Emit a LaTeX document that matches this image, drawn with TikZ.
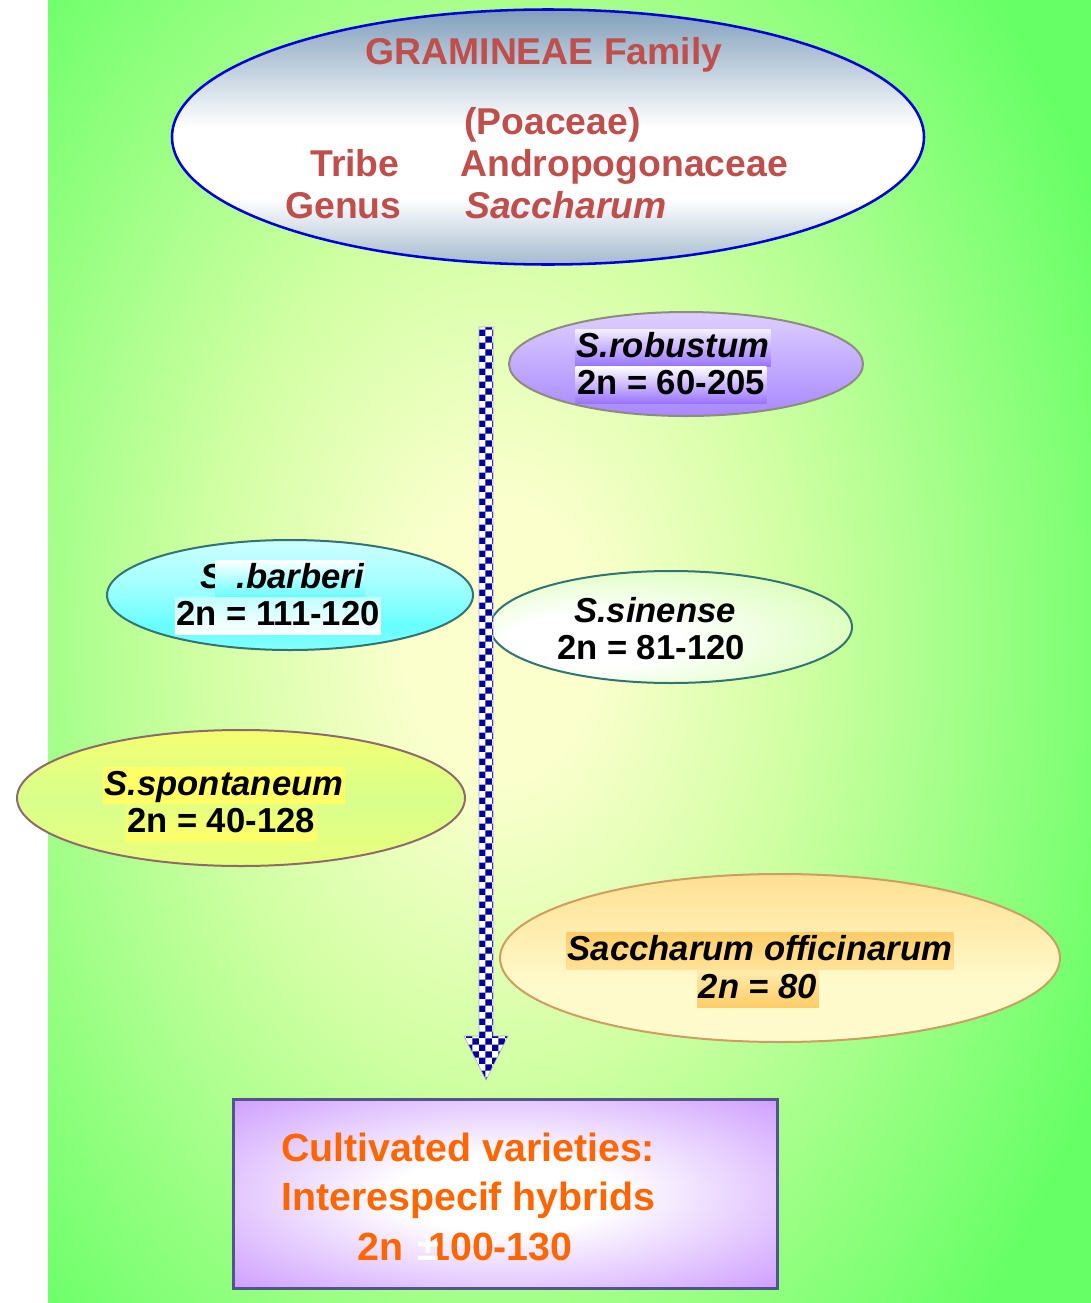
\documentclass[tikz,border=0pt]{standalone}
\usepackage{fontspec}
\setmainfont{Liberation Sans}
\usetikzlibrary{shapes.geometric,patterns,calc}

\definecolor{bggreen}{rgb}{0.40,1,0.40}
\definecolor{bgcream}{rgb}{0.98,1,0.80}
\definecolor{bgmid}{rgb}{0.82,1,0.64}
\definecolor{titlered}{rgb}{0.75,0.31,0.30}
\definecolor{steelc}{rgb}{0.29,0.46,0.62}
\definecolor{ellblue}{rgb}{0,0,0.85}
\definecolor{robpurple}{rgb}{0.60,0.45,1}
\definecolor{robtop}{rgb}{0.97,0.95,1}
\definecolor{robedge}{rgb}{0.55,0.55,0.50}
\definecolor{cyanc}{rgb}{0.40,1,1}
\definecolor{barbot}{rgb}{0.85,1,1}
\definecolor{tealc}{rgb}{0.20,0.45,0.45}
\definecolor{sinlg}{rgb}{0.78,1,0.58}
\definecolor{yelc}{rgb}{1,1,0.40}
\definecolor{yelg}{rgb}{0.85,1,0.55}
\definecolor{mauvec}{rgb}{0.55,0.42,0.42}
\definecolor{orngc}{rgb}{1,0.80,0.40}
\definecolor{creamc}{rgb}{1,0.98,0.80}
\definecolor{tanc}{rgb}{0.80,0.62,0.38}
\definecolor{lavc}{rgb}{0.80,0.60,1}
\definecolor{boxedge}{rgb}{0.33,0.33,0.55}
\definecolor{txtorange}{rgb}{1,0.40,0}
\definecolor{arrblue}{rgb}{0,0,0.60}

\pgfdeclareradialshading{bgshade}{\pgfpoint{0bp}{0bp}}{color(0bp)=(bgcream); color(4bp)=(bgcream); color(12bp)=(bgmid); color(27bp)=(bggreen); color(50bp)=(bggreen)}
\pgfdeclareverticalshading{topell}{100bp}{color(0bp)=(steelc); color(12bp)=(steelc); color(38bp)=(white); color(52bp)=(white); color(85bp)=(steelc); color(100bp)=(steelc)}
\pgfdeclareverticalshading{robsh}{100bp}{color(0bp)=(robpurple); color(10bp)=(robpurple); color(100bp)=(robtop)}
\pgfdeclareverticalshading{barsh}{100bp}{color(0bp)=(barbot); color(35bp)=(cyanc); color(55bp)=(cyanc!60!white); color(100bp)=(white)}
\pgfdeclareradialshading{sinsh}{\pgfpoint{-14bp}{-8bp}}{color(0bp)=(white); color(12bp)=(white); color(28bp)=(sinlg!50!white); color(42bp)=(sinlg); color(50bp)=(sinlg)}
\pgfdeclareverticalshading{sponsh}{100bp}{color(0bp)=(yelc); color(15bp)=(yelc!60!yelg); color(50bp)=(yelg); color(85bp)=(yelc); color(100bp)=(yelc)}
\pgfdeclareverticalshading{offsh}{100bp}{color(0bp)=(orngc!85!creamc); color(25bp)=(creamc); color(42bp)=(creamc); color(100bp)=(orngc)}
\pgfdeclareradialshading{boxsh}{\pgfpoint{0bp}{0bp}}{color(0bp)=(white); color(10bp)=(white); color(37bp)=(lavc); color(50bp)=(lavc)}

\pgfdeclarepatternformonly{bigcheck}{\pgfpointorigin}{\pgfqpoint{10pt}{10pt}}{\pgfqpoint{10pt}{10pt}}{%
  \pgfpathrectangle{\pgfpointorigin}{\pgfqpoint{5pt}{5pt}}%
  \pgfpathrectangle{\pgfqpoint{5pt}{5pt}}{\pgfqpoint{5pt}{5pt}}%
  \pgfusepath{fill}}

\begin{document}
\begin{tikzpicture}[x=0.75pt,y=-0.75pt,
  spell/.style={ellipse, draw, line width=1.5pt, inner sep=0pt},
  sptext/.style={font=\fontsize{26}{28}\selectfont\bfseries, inner xsep=1pt, inner ysep=0pt, text height=21pt, text depth=7pt, anchor=base},
  ttl/.style={font=\fontsize{28}{32}\selectfont\bfseries, text=titlered, inner sep=0pt, anchor=base west},
  cultt/.style={font=\fontsize{29.5}{34}\selectfont\bfseries, text=txtorange, inner sep=0pt, anchor=base west},
  arrowfill/.style={preaction={fill=white}, pattern=bigcheck, pattern color=arrblue, draw=arrblue!35, line width=0.4pt}]
\useasboundingbox (0,0) rectangle (1091,1303);
\fill[white] (0,0) rectangle (1091,1303);
\begin{scope}
  \clip (48,0) rectangle (1091,1303);
  \fill[bggreen] (48,0) rectangle (1091,1303);
  \shade[shading=bgshade] (-120,-260) rectangle (1120,1540);
\end{scope}

% top ellipse
\node[spell, draw=ellblue, line width=1.9pt, shading=topell, minimum width=752*0.75pt, minimum height=255*0.75pt] (fam) at (548,137) {};
\node[ttl, anchor=base] (t1) at (544,64) {GRAMINEAE Family};
\node[ttl] (t2) at (464,134) {(Poaceae)};
\node[ttl] (t3) at (310,176) {Tribe};
\node[ttl] (t4) at (460,176) {Andropogonaceae};
\node[ttl] (t5) at (285,218) {Genus};
\node[ttl] (t6) at (465,218) {\itshape Saccharum};

% S. robustum
\node[spell, draw=robedge, shading=robsh, minimum width=354*0.75pt, minimum height=104*0.75pt] (rob) at (686,364) {};
\node[sptext, top color=white!90!robpurple, bottom color=robpurple] (robA) at (673,357) {\itshape S.robustum};
\node[sptext, top color=white, bottom color=robpurple] (robB) at (671,394) {2n = 60-205};

% S. barberi
\node[spell, draw=tealc, shading=barsh, minimum width=366*0.75pt, minimum height=110*0.75pt] (bar) at (290,595) {};
\node[sptext, anchor=base west, inner xsep=0pt] (barS) at (200,588) {\itshape S};
\node[sptext, anchor=base west, top color=white, bottom color=cyanc] (barA) at (215,588) {\itshape\hspace{15pt}.barberi};
\node[sptext, top color=cyanc!40!white, middle color=cyanc, bottom color=white] (barB) at (278,625) {2n = 111-120};

% S. sinense
\node[spell, draw=tealc, shading=sinsh, minimum width=362*0.75pt, minimum height=112*0.75pt] (sin) at (671,627) {};
\node[sptext] (sinA) at (655,622) {\itshape S.sinense};
\node[sptext] (sinB) at (651,659) {2n = 81-120};

% S. spontaneum
\node[spell, draw=mauvec, shading=sponsh, minimum width=448*0.75pt, minimum height=136*0.75pt] (spo) at (241,798) {};
\node[sptext, fill=yelc] (spoA) at (224,795) {\itshape S.spontaneum};
\node[sptext, top color=yelg!70!yelc, bottom color=yelc] (spoB) at (221,832) {2n = 40-128};

% Saccharum officinarum
\node[spell, draw=tanc, shading=offsh, minimum width=560*0.75pt, minimum height=168*0.75pt] (off) at (780,958) {};
\node[sptext, top color=orngc, bottom color=orngc!50!creamc] (offA) at (760,960) {\itshape Saccharum officinarum};
\node[sptext, top color=creamc!70!orngc, bottom color=orngc] (offB) at (758,998) {\itshape 2n = 80};

% bottom box
\node[draw=boxedge, line width=2.25pt, shading=boxsh, minimum width=544*0.75pt, minimum height=189*0.75pt, inner sep=0pt] (cult) at (505,1193.5) {};
\node[cultt] (c1) at (281,1161) {Cultivated varieties:};
\node[cultt] (c2) at (281,1210) {Interespecif hybrids};
\node[cultt] (c3) at (357,1260) {2n};
\node[cultt] (c4) at (428,1260) {100-130};
\node[cultt, text=white] (c5) at (417,1260) {±};

% checkered arrow
\coordinate (atop) at (486,327);
\coordinate (atip) at (486,1080);
\path[arrowfill] ($(atop)+(-7,0)$) -- ($(atop)+(7,0)$) -- ($(atip)+(7,-44)$) -- ($(atip)+(22,-44)$) -- (atip) -- ($(atip)+(-22,-44)$) -- ($(atip)+(-7,-44)$) -- cycle;
\end{tikzpicture}
\end{document}
